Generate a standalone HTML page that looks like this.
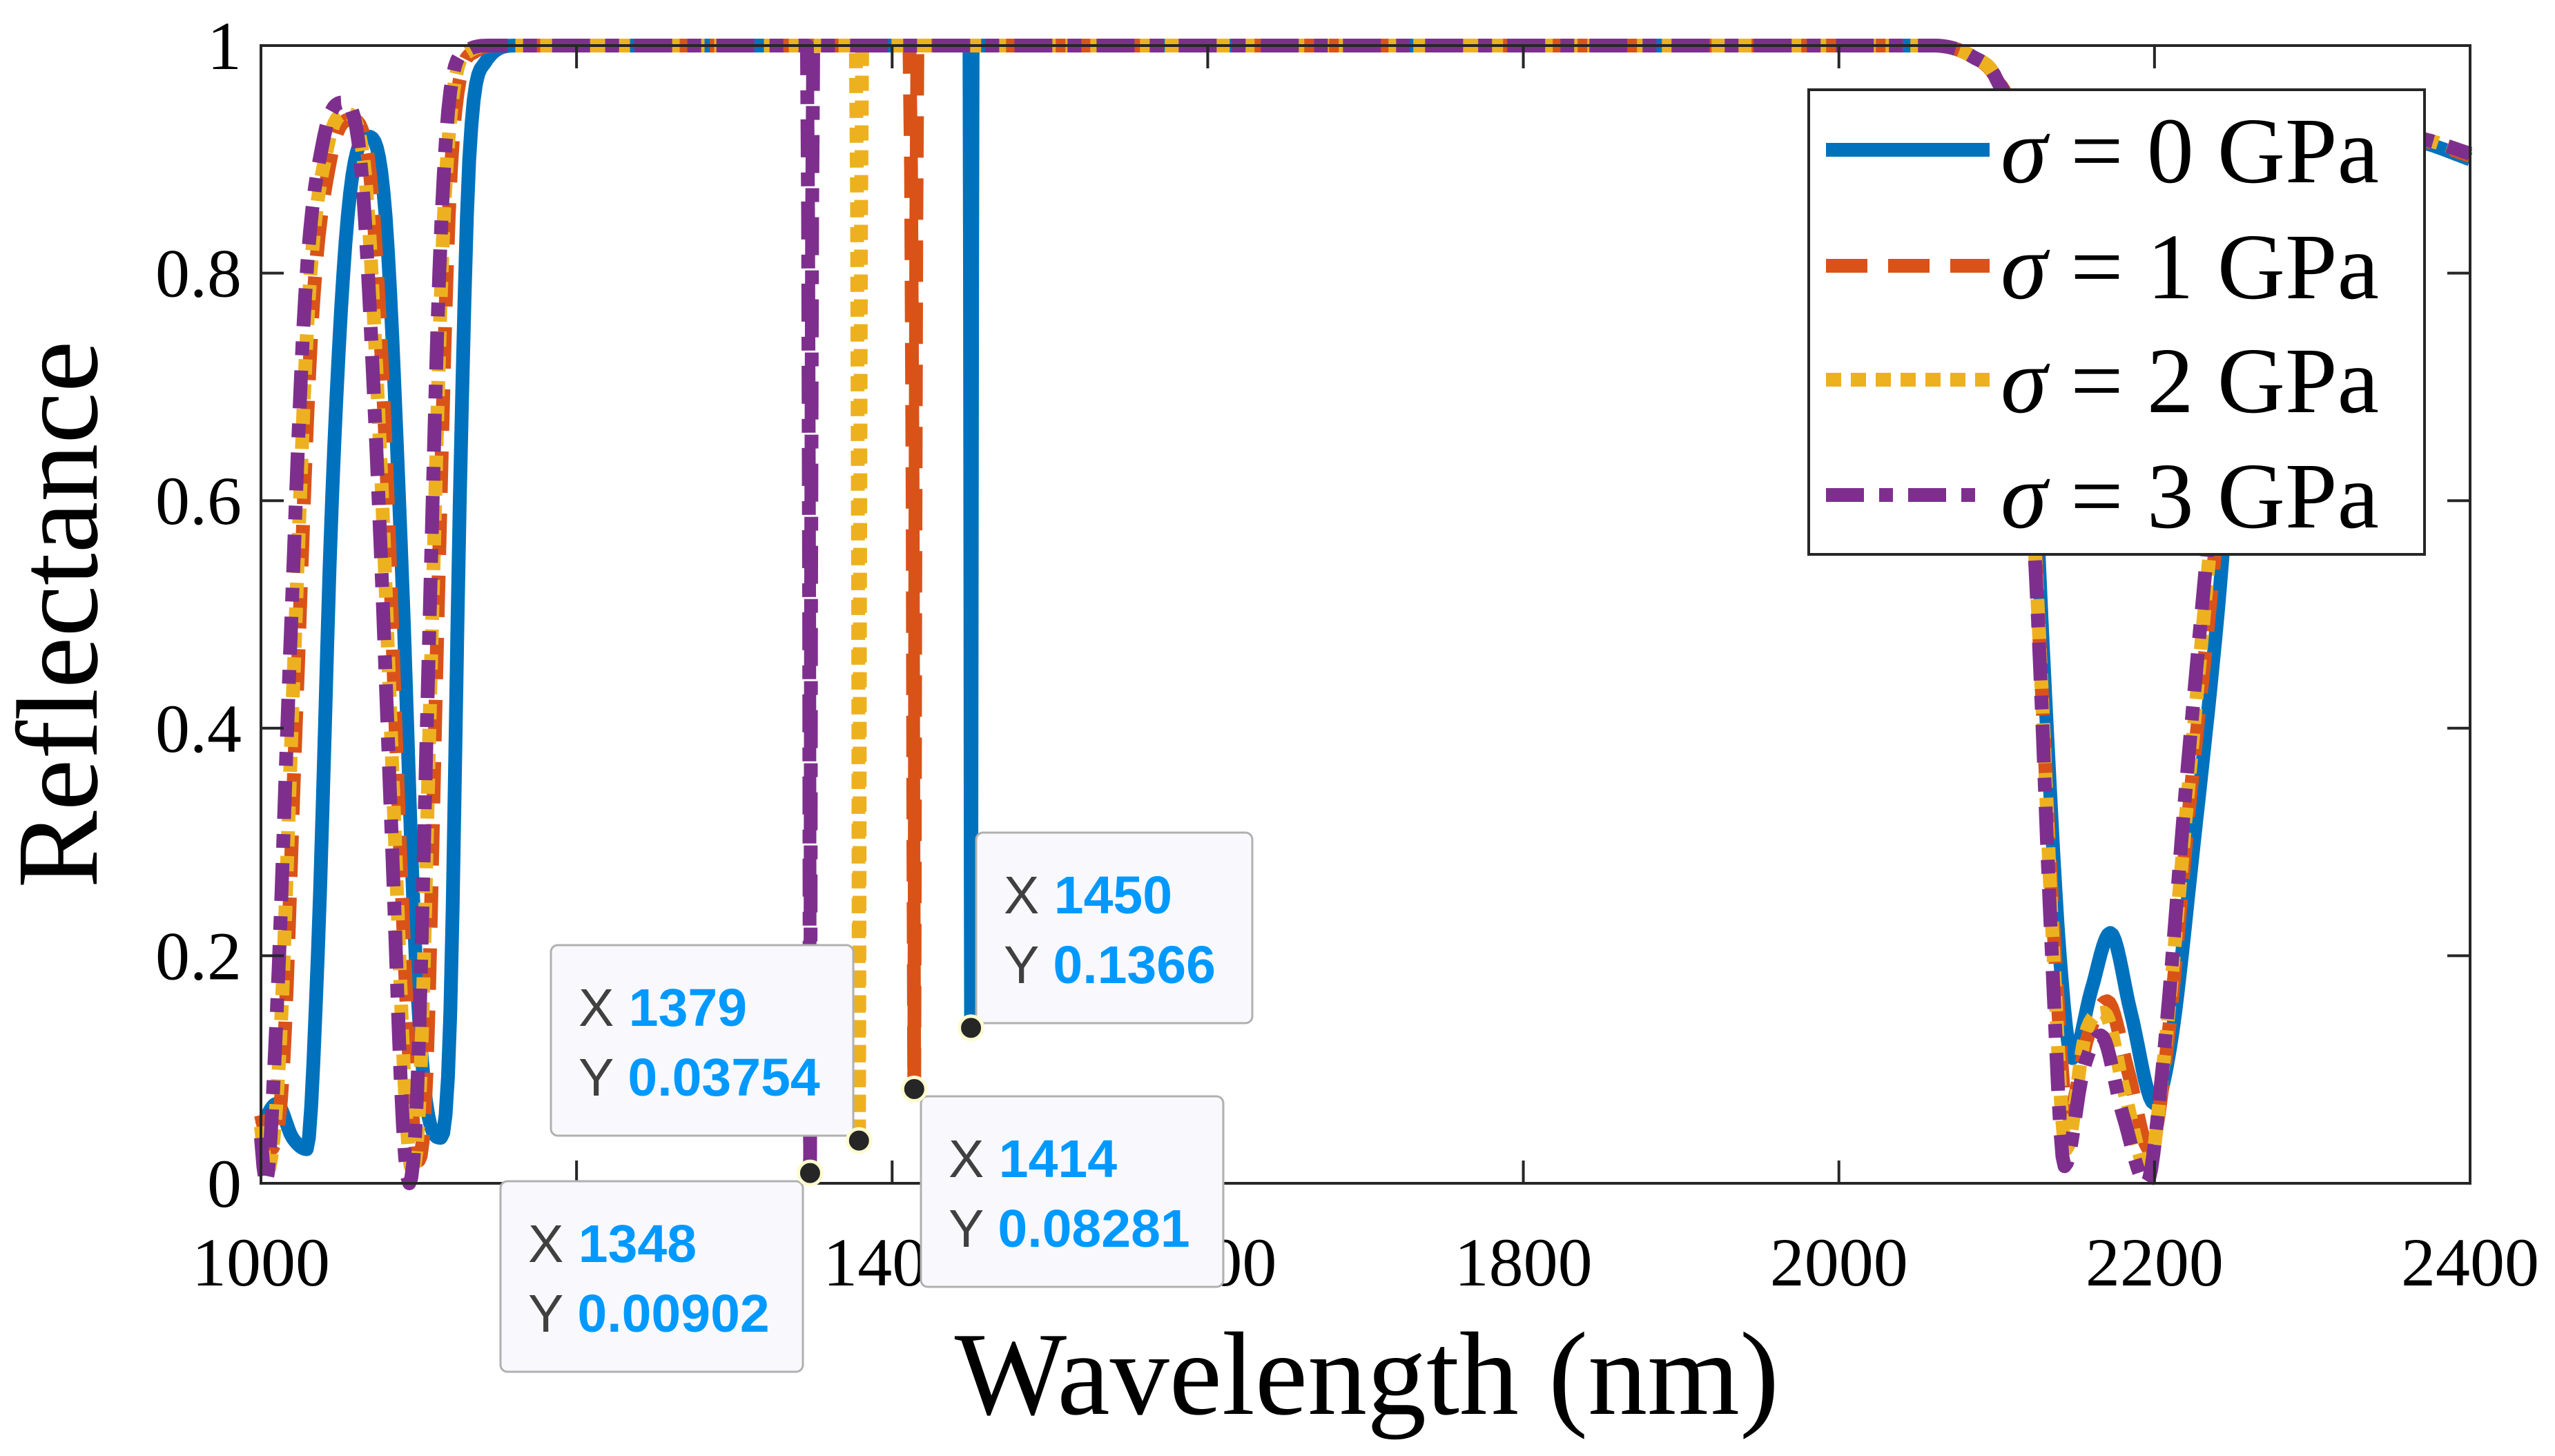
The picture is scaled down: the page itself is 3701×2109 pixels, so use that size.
<!DOCTYPE html>
<html><head><meta charset="utf-8"><style>
html,body{margin:0;padding:0;background:#fff;}
svg{display:block;}
</style></head><body>
<svg id="chart" width="3701" height="2109" viewBox="0 0 3701 2109" xmlns="http://www.w3.org/2000/svg">
<rect x="0" y="0" width="3701" height="2109" fill="#fff"/>
<g id="curves"></g>
<g id="axes"></g>
<g id="tips"></g>
<text x="0" y="0" transform="translate(140,890) rotate(-90)" text-anchor="middle" font-family="Liberation Serif, serif" font-size="168" fill="#000">Reflectance</text>
<text x="1980" y="2048" text-anchor="middle" font-family="Liberation Serif, serif" font-size="172" fill="#000">Wavelength (nm)</text>
<g>
<rect x="2620" y="130" width="892" height="673" fill="#fff" stroke="#262626" stroke-width="4"/>
<line x1="2645" y1="217" x2="2882" y2="217" stroke="#0072BD" stroke-width="20"/>
<line x1="2645" y1="385" x2="2882" y2="385" stroke="#D95319" stroke-width="20" stroke-dasharray="60 30"/>
<line x1="2645" y1="550" x2="2882" y2="550" stroke="#EDB120" stroke-width="20" stroke-dasharray="22 14"/>
<line x1="2645" y1="717" x2="2882" y2="717" stroke="#7E2F8E" stroke-width="20" stroke-dasharray="55 22 20 22"/>
<text x="2898" y="264" font-family="Liberation Serif, serif" font-size="136"><tspan font-style="italic">σ</tspan> = 0 GPa</text>
<text x="2898" y="432" font-family="Liberation Serif, serif" font-size="136"><tspan font-style="italic">σ</tspan> = 1 GPa</text>
<text x="2898" y="597" font-family="Liberation Serif, serif" font-size="136"><tspan font-style="italic">σ</tspan> = 2 GPa</text>
<text x="2898" y="764" font-family="Liberation Serif, serif" font-size="136"><tspan font-style="italic">σ</tspan> = 3 GPa</text>
</g>
</svg>
<script>
const xTicks = [1000,1200,1400,1600,1800,2000,2200,2400];
const yTicks = [0,0.2,0.4,0.6,0.8,1];
const yTickLabels = ["0","0.2","0.4","0.6","0.8","1"];
const wl0 = [1000,1010,1020,1029,1036,1045,1055,1068,1079,1089,1098,1106,1114,1120,1126,1132,1142,1162,1449,1449.6,1450,1450.4,1451,2060,2085,2100,2110,2120,2130,2140,2148,2160,2172,2185,2200,2210,2225,2240,2255,2270,2290,2320,2370,2400];
const r0  = [0.05,0.07,0.04,0.03,0.2,0.6,0.85,0.92,0.85,0.55,0.2,0.06,0.04,0.15,0.6,0.9,0.985,1,1,0.5,0.1366,0.5,1,1,0.99,0.97,0.92,0.75,0.45,0.2,0.11,0.17,0.22,0.15,0.07,0.12,0.3,0.5,0.75,0.88,0.93,0.93,0.915,0.9];
const wl1 = [1000,1006,1014,1022,1032,1044,1057,1068,1078,1088,1096,1100,1105,1112,1119,1126,1136,1150,1411,1413,1414,1414.6,1416,2060,2085,2100,2109,2119,2128,2137,2145,2158,2170,2183,2197,2208,2222,2236,2252,2268,2290,2320,2370,2400];
const r1  = [0.06,0.03,0.1,0.4,0.75,0.9,0.935,0.9,0.68,0.3,0.06,0.02,0.1,0.5,0.85,0.97,0.995,1,1,0.6,0.0828,0.5,1,1,0.99,0.97,0.93,0.72,0.45,0.2,0.06,0.13,0.16,0.1,0.03,0.12,0.33,0.52,0.77,0.89,0.93,0.93,0.917,0.903];
const wl2 = [1000,1004,1012,1020,1030,1042,1054,1065,1075,1085,1092,1096,1101,1108,1115,1122,1132,1147,1377,1378.5,1379,1379.6,1381,2060,2085,2100,2108,2118,2127,2136,2144,2156,2168,2181,2196,2206,2221,2234,2251,2270,2300,2370,2400];
const r2  = [0.05,0.01,0.12,0.42,0.77,0.91,0.94,0.9,0.66,0.3,0.06,0.01,0.09,0.47,0.82,0.96,0.995,1,1,0.5,0.0375,0.5,1,1,0.99,0.97,0.93,0.71,0.48,0.2,0.03,0.13,0.15,0.08,0.01,0.11,0.34,0.54,0.79,0.9,0.93,0.918,0.905];
const wl3 = [1000,1003,1010,1018,1028,1040,1052,1063,1073,1083,1090,1094,1099,1106,1113,1120,1130,1145,1346,1347.4,1348,1348.6,1350,2060,2085,2100,2108,2118,2126,2135,2143,2155,2166,2180,2195,2205,2220,2233,2250,2270,2300,2370,2400];
const r3  = [0.04,0.0,0.15,0.45,0.78,0.92,0.95,0.9,0.65,0.3,0.05,0.0,0.08,0.45,0.8,0.96,0.995,1,1,0.5,0.009,0.5,1,1,0.99,0.97,0.93,0.7,0.5,0.2,0.015,0.1,0.13,0.06,0.0,0.1,0.35,0.55,0.8,0.9,0.93,0.918,0.905];
const tipX = [1450,1414,1379,1348];
const tipY = [0.1366,0.08281,0.03754,0.00902];
const tipXLabels = ["1450","1414","1379","1348"];
const tipYLabels = ["0.1366","0.08281","0.03754","0.00902"];

const L=378,R=3578,T=66,B=1714;
const X=v=>L+(v-1000)/1400*(R-L);
const Y=v=>B-v*(B-T);
const NS="http://www.w3.org/2000/svg";
function mk(tag,attrs,parent){const e=document.createElementNS(NS,tag);for(const k in attrs)e.setAttribute(k,attrs[k]);parent.appendChild(e);return e;}

function monotone(xs,ys){
  const n=xs.length,d=[],m=new Array(n);
  for(let i=0;i<n-1;i++)d.push((ys[i+1]-ys[i])/(xs[i+1]-xs[i]));
  m[0]=d[0];m[n-1]=d[n-2];
  for(let i=1;i<n-1;i++)m[i]=(d[i-1]*d[i]<=0)?0:(d[i-1]+d[i])/2;
  for(let i=0;i<n-1;i++){if(d[i]===0){m[i]=0;m[i+1]=0;continue;}const a=m[i]/d[i],b=m[i+1]/d[i],s=a*a+b*b;if(s>9){const t=3/Math.sqrt(s);m[i]=t*a*d[i];m[i+1]=t*b*d[i];}}
  let p="";
  for(let i=0;i<n-1;i++){
    const h=xs[i+1]-xs[i],steps=Math.max(2,Math.ceil(h/1.5));
    for(let k=(i===0?0:1);k<=steps;k++){
      const t=k/steps,t2=t*t,t3=t2*t;
      let y=(2*t3-3*t2+1)*ys[i]+(t3-2*t2+t)*h*m[i]+(-2*t3+3*t2)*ys[i+1]+(t3-t2)*h*m[i+1];
      y=Math.max(0,Math.min(1,y));
      const x=xs[i]+t*h;
      p+=(p?"L":"M")+X(x).toFixed(1)+","+Y(y).toFixed(1);
    }
  }
  return p;
}
const curves=document.getElementById('curves');
const series=[[wl0,r0,"#0072BD",""],[wl1,r1,"#D95319","60 30"],[wl2,r2,"#EDB120","22 14"],[wl3,r3,"#7E2F8E","55 22 20 22"]];
series.forEach((s,i)=>{
  const p=mk('path',{d:monotone(s[0],s[1]),fill:"none",stroke:s[2],"stroke-width":20,"stroke-linejoin":"round"},curves);
  if(s[3])p.setAttribute('stroke-dasharray',s[3]);
  
  
});

const axes=document.getElementById('axes');
const frame=mk('rect',{x:L,y:T,width:R-L,height:B-T,fill:"none",stroke:"#262626","stroke-width":4},axes);


xTicks.forEach(v=>{
  const x=X(v);
  mk('line',{x1:x,y1:B,x2:x,y2:B-33,stroke:"#262626","stroke-width":4},axes);
  mk('line',{x1:x,y1:T,x2:x,y2:T+33,stroke:"#262626","stroke-width":4},axes);
  const t=mk('text',{x:x,y:1862,"text-anchor":"middle","font-family":"Liberation Serif, serif","font-size":100,fill:"#000"},axes);
  t.textContent=v;
  
  
});
yTicks.forEach((v,i)=>{
  const y=Y(v);
  mk('line',{x1:L,y1:y,x2:L+33,y2:y,stroke:"#262626","stroke-width":4},axes);
  mk('line',{x1:R,y1:y,x2:R-33,y2:y,stroke:"#262626","stroke-width":4},axes);
  const t=mk('text',{x:350,y:y+34,"text-anchor":"end","font-family":"Liberation Serif, serif","font-size":100,fill:"#000"},axes);
  t.textContent=yTickLabels[i];
  
  
});

const tips=document.getElementById('tips');
const boxes=[[1414,1206,400],[1334,1588,438],[798,1369,438],[725,1711,438]];
tipX.forEach((v,i)=>{
  const [bx,by,bw]=boxes[i];
  const g=mk('g',{},tips);
  
  
  mk('rect',{x:bx,y:by,width:bw,height:276,rx:10,fill:"#f9f9fd",stroke:"#b0b0b0","stroke-width":3},g);
  const t1=mk('text',{x:bx+40,y:by+117,"font-family":"Liberation Sans, sans-serif","font-size":77,fill:"#404040"},g);
  t1.innerHTML='X <tspan font-weight="bold" fill="#0099ff">'+tipXLabels[i]+'</tspan>';
  const t2=mk('text',{x:bx+40,y:by+218,"font-family":"Liberation Sans, sans-serif","font-size":77,fill:"#404040"},g);
  t2.innerHTML='Y <tspan font-weight="bold" fill="#0099ff">'+tipYLabels[i]+'</tspan>';
  const c=mk('circle',{cx:X(v),cy:Y(tipY[i]),r:17,fill:"#262626",stroke:"#fffbd0","stroke-width":5},tips);
  
  
});
</script>
</body></html>
